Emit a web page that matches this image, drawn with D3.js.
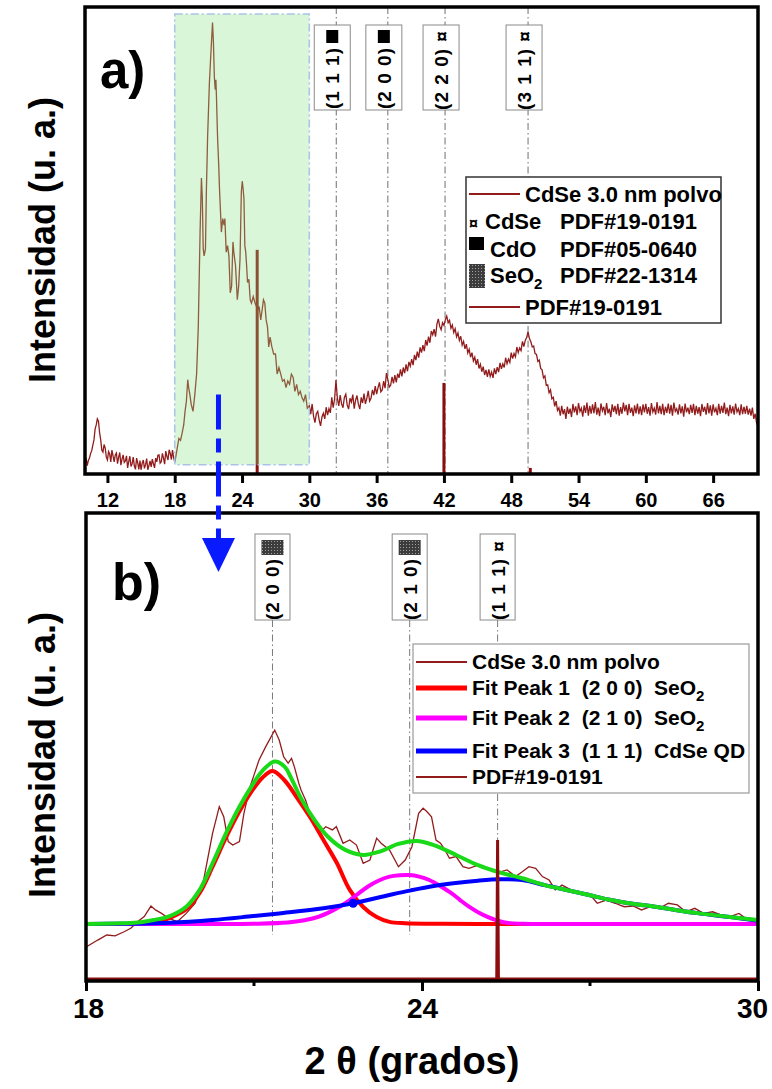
<!DOCTYPE html>
<html><head><meta charset="utf-8">
<script src="https://cdn.jsdelivr.net/npm/d3@7"></script>
<style>
body{margin:0;background:#fff}
svg text{font-family:"Liberation Sans",Arial,sans-serif;font-weight:bold;white-space:pre}
</style></head><body><svg id="c" width="772" height="1089"></svg>
<script>
// ---------- DATA ----------
// XRD pattern "CdSe 3.0 nm polvo": [2theta, intensity a.u.]
const cdseLow = [[10.0,2.6],[10.1,3.4],[10.2,1.8],[10.3,2.9],[10.4,3.4],[10.5,4.4],[10.6,5.0],[10.7,6.2],[10.8,7.3],[10.9,9.6],[11.0,10.5],[11.1,11.8],[11.2,11.3],[11.3,8.9],[11.4,7.3],[11.5,5.1],[11.6,4.7],[11.7,6.3],[11.8,5.6],[11.9,3.6],[12.0,3.0],[12.1,4.8],[12.2,4.3],[12.3,2.6],[12.4,5.1],[12.5,3.9],[12.6,2.6],[12.7,4.1],[12.8,4.5],[12.9,2.2],[13.0,3.6],[13.1,4.6],[13.2,1.9],[13.3,3.2],[13.4,4.1],[13.5,2.5],[13.6,2.8],[13.7,3.9],[13.8,1.3],[13.9,2.7],[14.0,3.8],[14.1,1.6],[14.2,2.2],[14.3,3.6],[14.4,1.7],[14.5,1.0],[14.6,3.4],[14.7,2.4],[14.8,1.0],[14.9,2.9],[15.0,0.9],[15.1,2.3],[15.2,3.0],[15.3,1.2],[15.4,2.0],[15.5,3.3],[15.6,0.9],[15.7,1.8],[15.8,2.8],[15.9,1.5],[16.0,3.2],[16.1,2.2],[16.2,1.3],[16.3,3.4],[16.4,2.6],[16.5,4.0],[16.6,4.1],[16.7,2.3],[16.8,2.6],[16.9,4.4],[17.0,3.4],[17.1,2.1],[17.2,4.9],[17.3,3.8],[17.4,3.0],[17.5,5.2],[17.6,4.4],[17.7,3.1],[17.8,5.1],[17.9,3.5]];
const cdseMid = [[18.01,2.5],[18.21,5.4],[18.37,7.6],[18.52,7.2],[18.68,9.0],[18.8,10.5],[18.92,13.4],[19.04,15.6],[19.16,20.2],[19.24,18.5],[19.35,17.0],[19.47,14.9],[19.63,13.4],[19.79,17.0],[19.95,21.4],[20.1,31.5],[20.26,51.8],[20.38,63.4],[20.46,59.0],[20.54,48.2],[20.62,46.7],[20.74,48.2],[20.82,60.5],[20.93,72.1],[21.01,77.9],[21.09,83.7],[21.21,89.5],[21.37,96.7],[21.45,92.4],[21.53,85.1],[21.61,82.3],[21.67,84.4],[21.72,80.8],[21.8,73.6],[21.84,70.7],[21.92,66.3],[22.0,60.5],[22.16,51.8],[22.28,54.7],[22.4,53.3],[22.47,54.7],[22.59,47.5],[22.71,48.9],[22.83,46.7],[22.95,38.8],[23.07,40.2],[23.19,49.7],[23.27,47.5],[23.42,44.6],[23.58,37.3],[23.7,40.2],[23.82,46.0],[23.94,60.5],[24.02,62.7],[24.09,61.2],[24.17,59.0],[24.25,48.9],[24.33,47.5],[24.41,44.6],[24.49,41.0],[24.61,41.7],[24.73,37.3],[24.84,36.6],[25.0,38.0],[25.16,36.6],[25.28,35.9],[25.4,35.1],[25.52,35.9],[25.67,33.0],[25.79,35.1],[25.91,37.3],[26.03,36.6],[26.15,33.0],[26.27,31.5],[26.38,27.2],[26.5,29.3],[26.66,27.2],[26.82,25.7],[26.98,25.7],[27.13,21.4],[27.29,22.8],[27.45,21.4],[27.61,19.9],[27.77,20.2],[27.92,18.5],[28.08,19.9],[28.24,19.2],[28.4,21.4],[28.56,20.7],[28.71,17.7],[28.87,19.2],[29.03,17.0],[29.19,17.7],[29.35,16.3],[29.5,15.6],[29.66,17.0],[29.82,14.1]];
const cdseHigh = [[30.0,14.6],[30.125,12.8],[30.25,15.0],[30.375,12.4],[30.5,11.0],[30.625,12.9],[30.75,13.4],[30.875,11.6],[31.0,10.3],[31.125,12.2],[31.25,13.0],[31.375,11.8],[31.5,14.3],[31.625,12.6],[31.75,14.0],[31.875,13.1],[32.0,16.4],[32.125,14.2],[32.25,16.0],[32.375,20.1],[32.5,16.2],[32.625,14.6],[32.75,16.9],[32.875,15.0],[33.0,14.2],[33.125,16.4],[33.25,17.1],[33.375,14.8],[33.5,13.9],[33.625,16.2],[33.75,15.4],[33.875,17.0],[34.0,14.0],[34.125,15.8],[34.25,16.8],[34.375,14.9],[34.5,13.9],[34.625,16.4],[34.75,15.2],[34.875,17.2],[35.0,15.0],[35.125,16.2],[35.25,17.8],[35.375,15.6],[35.5,16.2],[35.625,18.0],[35.75,16.9],[35.875,18.8],[36.0,17.1],[36.125,18.5],[36.25,19.6],[36.375,17.6],[36.5,18.0],[36.625,19.9],[36.75,18.4],[36.875,21.6],[37.0,20.2],[37.125,18.6],[37.25,19.0],[37.375,20.8],[37.5,19.4],[37.625,21.2],[37.75,19.6],[37.875,21.5],[38.0,20.6],[38.125,22.4],[38.25,20.9],[38.375,22.8],[38.5,21.6],[38.625,23.5],[38.75,22.0],[38.875,24.0],[39.0,23.1],[39.125,24.6],[39.25,23.3],[39.375,25.5],[39.5,24.4],[39.625,26.2],[39.75,24.9],[39.875,27.1],[40.0,26.0],[40.125,27.6],[40.25,26.3],[40.375,28.7],[40.5,27.5],[40.625,29.4],[40.75,28.1],[40.875,30.6],[41.0,29.8],[41.125,31.0],[41.25,29.4],[41.375,32.1],[41.5,33.2],[41.625,31.6],[41.75,30.9],[41.875,32.4],[42.0,31.8],[42.125,33.0],[42.25,33.8],[42.375,32.4],[42.5,32.9],[42.625,31.2],[42.75,31.9],[42.875,30.3],[43.0,31.1],[43.125,29.4],[43.25,30.2],[43.375,28.6],[43.5,29.5],[43.625,27.6],[43.75,28.4],[43.875,26.8],[44.0,27.8],[44.125,25.9],[44.25,26.7],[44.375,25.0],[44.5,26.0],[44.625,24.2],[44.75,25.0],[44.875,23.4],[45.0,24.6],[45.125,22.6],[45.25,23.5],[45.375,21.9],[45.5,23.0],[45.625,21.2],[45.75,22.3],[45.875,20.8],[46.0,22.4],[46.125,20.9],[46.25,21.8],[46.375,20.6],[46.5,22.6],[46.625,21.4],[46.75,22.9],[46.875,21.8],[47.0,23.8],[47.125,22.5],[47.25,23.6],[47.375,22.8],[47.5,24.9],[47.625,23.6],[47.75,24.6],[47.875,23.9],[48.0,26.0],[48.125,24.7],[48.25,25.8],[48.375,25.1],[48.5,27.2],[48.625,26.0],[48.75,27.0],[48.875,26.4],[49.0,28.4],[49.125,27.3],[49.25,28.6],[49.375,29.2],[49.5,30.4],[49.625,29.0],[49.75,28.3],[49.875,27.2],[50.0,27.4],[50.125,25.8],[50.25,25.6],[50.375,24.1],[50.5,24.4],[50.625,22.6],[50.75,22.3],[50.875,20.6],[51.0,21.0],[51.125,19.0],[51.25,19.1],[51.375,17.4],[51.5,18.0],[51.625,16.1],[51.75,16.4],[51.875,14.5],[52.0,15.6],[52.125,13.6],[52.25,14.2],[52.375,12.5],[52.5,14.6],[52.625,12.8],[52.75,13.9],[52.875,11.8],[53.0,14.4],[53.125,12.9],[53.25,14.0],[53.375,12.2],[53.5,15.0],[53.625,13.2],[53.75,14.5],[53.875,12.6],[54.0,15.2],[54.125,13.4],[54.25,14.1],[54.375,12.3],[54.5,14.7],[54.625,13.1],[54.75,15.3],[54.875,12.5],[55.0,14.6],[55.125,12.9],[55.25,14.9],[55.375,13.0],[55.5,15.4],[55.625,12.7],[55.75,14.2],[55.875,12.4],[56.0,15.1],[56.125,13.5],[56.25,14.4],[56.375,12.6],[56.5,15.2],[56.625,13.0],[56.75,14.0],[56.875,12.2],[57.0,14.9],[57.125,13.3],[57.25,14.6],[57.375,12.8],[57.5,15.0],[57.625,12.5],[57.75,14.3],[57.875,12.9],[58.0,15.3],[58.125,13.4],[58.25,14.8],[58.375,12.6],[58.5,15.0],[58.625,13.1],[58.75,14.2],[58.875,12.4],[59.0,14.7],[59.125,13.0],[59.25,15.1],[59.375,12.8],[59.5,14.5],[59.625,12.6],[59.75,14.9],[59.875,13.2],[60.0,15.0],[60.125,12.9],[60.25,14.3],[60.375,12.5],[60.5,15.2],[60.625,13.3],[60.75,14.1],[60.875,12.7],[61.0,15.4],[61.125,13.0],[61.25,14.6],[61.375,12.8],[61.5,15.0],[61.625,12.6],[61.75,14.4],[61.875,13.1],[62.0,15.1],[62.125,12.9],[62.25,14.8],[62.375,12.5],[62.5,15.3],[62.625,13.4],[62.75,14.0],[62.875,12.7],[63.0,14.9],[63.125,13.0],[63.25,14.5],[63.375,12.3],[63.5,15.1],[63.625,13.2],[63.75,14.2],[63.875,12.8],[64.0,14.8],[64.125,13.1],[64.25,15.0],[64.375,12.6],[64.5,14.6],[64.625,12.9],[64.75,14.3],[64.875,12.4],[65.0,15.0],[65.125,13.3],[65.25,14.4],[65.375,12.7],[65.5,15.2],[65.625,13.0],[65.75,14.7],[65.875,12.5],[66.0,14.9],[66.125,13.2],[66.25,14.1],[66.375,12.6],[66.5,15.0],[66.625,12.9],[66.75,14.6],[66.875,13.1],[67.0,15.3],[67.125,12.8],[67.25,14.2],[67.375,12.4],[67.5,14.8],[67.625,13.0],[67.75,14.5],[67.875,12.7],[68.0,15.1],[68.125,13.3],[68.25,14.0],[68.375,12.6],[68.5,14.9],[68.625,12.8],[68.75,14.4],[68.875,12.9],[69.0,14.6],[69.125,12.7],[69.25,14.0],[69.375,12.5],[69.5,14.2],[69.625,11.8],[69.75,12.9],[69.875,10.9],[70.0,10.1]];

// Reference pattern PDF#19-0191 (CdSe) sticks
const pdfTheta = [25.35, 42.0, 49.7];
const pdfIntTop = [48.0, 19.5, 1.3];
const pdfBottomBase = -11.5;
const pdfBottomTop = 48.9;

// Gaussian fit components (panel b), [2theta, intensity]
const fitPeak1 = [[18,12.4],[18.5,12.4],[19,12.5],[19.3,13.0],[19.47,14.8],[19.79,18.8],[20.03,25.9],[20.26,37.3],[20.5,50.0],[20.74,61.4],[20.97,70.5],[21.15,76.0],[21.33,78.9],[21.54,75.0],[21.76,67.6],[22.0,58.9],[22.24,48.9],[22.48,38.9],[22.71,27.2],[22.95,19.8],[23.19,15.4],[23.42,13.3],[23.7,12.7],[24.2,12.5],[25,12.4],[30,12.4]];
const fitPeak2 = [[18,12.4],[21,12.5],[21.6,13.0],[21.9,14.0],[22.16,15.6],[22.4,18.2],[22.63,21.4],[22.83,25.0],[23.03,28.6],[23.22,31.2],[23.42,33.0],[23.6,33.6],[23.78,33.7],[23.95,33.0],[24.13,31.5],[24.33,28.8],[24.53,25.7],[24.68,22.8],[24.84,19.9],[25.0,17.5],[25.16,15.6],[25.32,14.1],[25.48,13.0],[25.8,12.5],[26.5,12.4],[30,12.4]];
const fitPeak3 = [[18,12.4],[18.68,12.5],[19.5,12.9],[20.26,14.1],[20.9,15.6],[21.45,17.0],[22.24,19.2],[22.77,21.4],[23.42,25.0],[23.8,27.0],[24.21,28.9],[24.6,30.2],[25.0,31.2],[25.4,31.8],[25.79,31.5],[26.19,29.3],[26.58,27.2],[26.98,25.0],[27.37,22.8],[27.76,21.2],[28.16,19.9],[28.55,18.4],[28.95,17.0],[29.5,15.4],[30,13.8]];
const fitSum = [[18,12.4],[18.5,12.6],[18.92,13.0],[19.2,14.1],[19.47,15.6],[19.79,19.9],[20.03,27.2],[20.26,38.8],[20.5,51.8],[20.74,63.4],[20.97,72.8],[21.15,79.0],[21.37,83.0],[21.55,80.7],[21.67,75.5],[21.84,67.0],[22.08,57.6],[22.32,50.3],[22.63,44.6],[22.95,42.4],[23.26,44.0],[23.58,47.2],[23.9,48.5],[24.21,46.7],[24.61,42.4],[25.0,38.0],[25.4,34.7],[25.79,32.3],[26.19,29.3],[26.58,27.2],[26.98,25.0],[27.37,22.8],[27.76,21.2],[28.16,19.9],[28.55,18.4],[28.95,17.0],[29.5,15.4],[30,14.1]];
const crossPoint = [22.77, 21.4];

// Annotations
const refTop = [32.4, 37.0, 42.1, 49.5];
const refTopLabels = ["(1 1 1)", "(2 0 0)", "(2 2 0)", "(3 1 1)"];
const refTopPhase = ["CdO", "CdO", "CdSe", "CdSe"];
const refBot = [21.33, 23.78, 25.35];
const refBotLabels = ["(2 0 0)", "(2 1 0)", "(1 1 1)"];
const refBotPhase = ["SeO2", "SeO2", "CdSe"];
const refBotEnd = 7.6;
const zoomRange = [18, 30];
const zoomInt = [2.0, 98.5];
const arrowTheta = 21.9, arrowFrom = 17, arrowTo = 165.4;

const ticksTop = [12, 18, 24, 30, 36, 42, 48, 54, 60, 66];
const ticksBot = [18, 24, 30];
const minorBot = [21, 27];

// ---------- LAYOUT ----------
const svg = d3.select("#c");
const F = {l: 85, r: 758, t: 7, b: 474};
const G = {l: 86, r: 758, t: 513, b: 981};
const xTop = d3.scaleLinear().domain([10, 70]).range([F.l, F.r]);
const yTop = d3.scaleLinear().domain([0, 100]).range([F.b, F.t]);
const xBot = d3.scaleLinear().domain([18, 30]).range([G.l, G.r]);
const yBot = d3.scaleLinear().domain([-12.4, 191.1]).range([G.b, G.t]);

const RED = "#921c1c";
const defs = svg.append("defs");
defs.append("clipPath").attr("id", "clipTop").append("rect").attr("x", F.l).attr("y", F.t).attr("width", F.r - F.l).attr("height", F.b - F.t);
defs.append("clipPath").attr("id", "clipBot").append("rect").attr("x", G.l).attr("y", G.t).attr("width", G.r - G.l).attr("height", G.b - G.t);
const pat = defs.append("pattern").attr("id", "seo2").attr("width", 3).attr("height", 3).attr("patternUnits", "userSpaceOnUse");
pat.append("rect").attr("width", 3).attr("height", 3).attr("fill", "#3c3c3c");
pat.append("rect").attr("x", 1).attr("y", 1).attr("width", 1).attr("height", 1).attr("fill", "#a0a0a0");

const dashDot = "7,3,1.5,3";

// ================= TOP PANEL =================
const gTop = svg.append("g");
gTop.selectAll("line.ref").data(refTop).join("line")
  .attr("x1", d => xTop(d)).attr("x2", d => xTop(d))
  .attr("y1", F.t).attr("y2", F.b)
  .attr("stroke", "#6f6f6f").attr("stroke-width", 1).attr("stroke-dasharray", dashDot);

const lineTop = d3.line().x(d => xTop(d[0])).y(d => yTop(d[1]));
const cdseAll = cdseLow.concat(cdseMid, cdseHigh);
gTop.append("path").datum(cdseAll).attr("d", lineTop)
  .attr("fill", "none").attr("stroke", RED).attr("stroke-width", 1.3)
  .attr("clip-path", "url(#clipTop)");

gTop.selectAll("line.pdf").data(pdfTheta).join("line")
  .attr("x1", d => xTop(d)).attr("x2", d => xTop(d))
  .attr("y1", yTop(0)).attr("y2", (d, i) => yTop(pdfIntTop[i]))
  .attr("stroke", "#8b0d0d").attr("stroke-width", 3);

// zoom region
gTop.append("rect")
  .attr("x", xTop(zoomRange[0])).attr("y", yTop(zoomInt[1]))
  .attr("width", xTop(zoomRange[1]) - xTop(zoomRange[0]))
  .attr("height", yTop(zoomInt[0]) - yTop(zoomInt[1]))
  .attr("fill", "rgba(140,228,135,0.32)")
  .attr("stroke", "#a9c3e6").attr("stroke-width", 1.5).attr("stroke-dasharray", "8,3,2,3");

// annotation boxes top
refTop.forEach((t, i) => {
  const cx = xTop(t) - 4;
  const g = gTop.append("g");
  g.append("rect").attr("x", cx - 18).attr("y", 25).attr("width", 36).attr("height", 85)
    .attr("fill", "#fff").attr("stroke", "#8a8a8a").attr("stroke-width", 1);
  if (refTopPhase[i] === "CdO") {
    g.append("rect").attr("x", cx - 6).attr("y", 30).attr("width", 12).attr("height", 13).attr("fill", "#000");
    g.append("text").attr("transform", `translate(${cx + 7},${78}) rotate(-90)`)
      .attr("text-anchor", "middle").attr("font-size", 19).attr("letter-spacing", 1).text(refTopLabels[i]);
  } else {
    g.append("text").attr("transform", `translate(${cx + 7},${70}) rotate(-90)`)
      .attr("text-anchor", "middle").attr("font-size", 19).attr("letter-spacing", 1).text(refTopLabels[i] + " \u00A4");
  }
});

// legend top
const lt = gTop.append("g");
lt.append("rect").attr("x", 466).attr("y", 177).attr("width", 255).attr("height", 146)
  .attr("fill", "#fff").attr("stroke", "#333").attr("stroke-width", 1.5);
lt.append("line").attr("x1", 469).attr("x2", 520).attr("y1", 194).attr("y2", 194).attr("stroke", RED).attr("stroke-width", 2);
lt.append("text").attr("x", 525).attr("y", 202).attr("font-size", 22).text("CdSe 3.0 nm polvo");
lt.append("text").attr("x", 469).attr("y", 229).attr("font-size", 16).text("\u00A4");
lt.append("text").attr("x", 485).attr("y", 229).attr("font-size", 22).text("CdSe");
lt.append("text").attr("x", 560).attr("y", 229).attr("font-size", 22).text("PDF#19-0191");
lt.append("rect").attr("x", 469).attr("y", 237).attr("width", 15).attr("height", 13).attr("fill", "#000");
lt.append("text").attr("x", 490).attr("y", 257).attr("font-size", 22).text("CdO");
lt.append("text").attr("x", 560).attr("y", 257).attr("font-size", 22).text("PDF#05-0640");
lt.append("rect").attr("x", 469).attr("y", 264).attr("width", 16).attr("height", 24).attr("fill", "url(#seo2)");
const seT = lt.append("text").attr("x", 490).attr("y", 283).attr("font-size", 22).text("SeO");
seT.append("tspan").attr("font-size", 15).attr("dy", 6).text("2");
lt.append("text").attr("x", 560).attr("y", 283).attr("font-size", 22).text("PDF#22-1314");
lt.append("line").attr("x1", 469).attr("x2", 520).attr("y1", 307).attr("y2", 307).attr("stroke", RED).attr("stroke-width", 2);
lt.append("text").attr("x", 525).attr("y", 315).attr("font-size", 22).text("PDF#19-0191");

// frame + axis
gTop.append("rect").attr("x", F.l).attr("y", F.t).attr("width", F.r - F.l).attr("height", F.b - F.t)
  .attr("fill", "none").attr("stroke", "#000").attr("stroke-width", 3.5);
const axT = gTop.append("g").attr("transform", `translate(0,${F.b})`)
  .call(d3.axisBottom(xTop).tickValues(ticksTop).tickSize(9).tickSizeOuter(0).tickPadding(10));
axT.select(".domain").remove();
axT.selectAll("line").attr("stroke", "#000").attr("stroke-width", 3);
axT.selectAll("text").attr("font-size", 20).attr("fill", "#000")
  .style("font-family", '"Liberation Sans",Arial,sans-serif').style("font-weight", "bold");

gTop.append("text").attr("transform", `translate(55,${240}) rotate(-90)`)
  .attr("text-anchor", "middle").attr("font-size", 36).text("Intensidad (u. a.)");
gTop.append("text").attr("x", 100).attr("y", 88).attr("font-size", 51).text("a)");

// ================= BOTTOM PANEL =================
const gBot = svg.append("g");
refBot.forEach((t, i) => {
  const cx = xBot(t);
  gBot.append("line").attr("x1", cx).attr("x2", cx).attr("y1", 620).attr("y2", yBot(refBotEnd))
    .attr("stroke", "#7a7a7a").attr("stroke-width", 1).attr("stroke-dasharray", dashDot);
  const g = gBot.append("g");
  g.append("rect").attr("x", cx - 17.5).attr("y", 534).attr("width", 35).attr("height", 86)
    .attr("fill", "#fff").attr("stroke", "#8a8a8a").attr("stroke-width", 1);
  if (refBotPhase[i] === "SeO2") {
    g.append("rect").attr("x", cx - 11).attr("y", 540).attr("width", 22).attr("height", 15).attr("fill", "url(#seo2)");
    g.append("text").attr("transform", `translate(${cx + 7},${589}) rotate(-90)`)
      .attr("text-anchor", "middle").attr("font-size", 19).attr("letter-spacing", 1).text(refBotLabels[i]);
  } else {
    g.append("text").attr("transform", `translate(${cx + 7},${580}) rotate(-90)`)
      .attr("text-anchor", "middle").attr("font-size", 19).attr("letter-spacing", 1).text(refBotLabels[i] + " \u00A4");
  }
});

const lineBot = d3.line().x(d => xBot(d[0])).y(d => yBot(d[1]));
const smoothBot = d3.line().x(d => xBot(d[0])).y(d => yBot(d[1])).curve(d3.curveCatmullRom);
const botData = cdseAll.filter(d => d[0] >= 18 && d[0] <= 30);
gBot.append("path").datum([[18, 2.2]].concat(botData)).attr("d", lineBot)
  .attr("fill", "none").attr("stroke", RED).attr("stroke-width", 1.3).attr("clip-path", "url(#clipBot)");

const fits = [[fitPeak1, "#ff0000"], [fitPeak2, "#ff00ff"], [fitPeak3, "#0000ff"], [fitSum, "#19d919"]];
fits.forEach(([d, c]) => {
  gBot.append("path").datum(d).attr("d", smoothBot).attr("fill", "none")
    .attr("stroke", c).attr("stroke-width", 4).attr("clip-path", "url(#clipBot)");
});
gBot.append("circle").attr("cx", xBot(crossPoint[0])).attr("cy", yBot(crossPoint[1])).attr("r", 4.5).attr("fill", "#0000ff");

// PDF reference line (bottom)
const pdfBot = [[18, pdfBottomBase], [pdfTheta[0] - 0.015, pdfBottomBase], [pdfTheta[0], pdfBottomTop], [pdfTheta[0] + 0.015, pdfBottomBase], [30, pdfBottomBase]];
gBot.append("path").datum(pdfBot).attr("d", lineBot).attr("fill", "none")
  .attr("stroke", "#8b0d0d").attr("stroke-width", 3).attr("clip-path", "url(#clipBot)");

// legend bottom
const lb = gBot.append("g");
lb.append("rect").attr("x", 413).attr("y", 644).attr("width", 336).attr("height", 149)
  .attr("fill", "#fff").attr("stroke", "#9a9a9a").attr("stroke-width", 1.2);
const legRows = [
  {y: 662, c: RED, w: 2, t: "CdSe 3.0 nm polvo"},
  {y: 688, c: "#ff0000", w: 5, t: "Fit Peak 1  (2 0 0)  SeO", sub: true},
  {y: 718, c: "#ff00ff", w: 5, t: "Fit Peak 2  (2 1 0)  SeO", sub: true},
  {y: 751, c: "#0000ff", w: 5, t: "Fit Peak 3  (1 1 1)  CdSe QD"},
  {y: 777, c: RED, w: 2, t: "PDF#19-0191"}
];
legRows.forEach(r => {
  lb.append("line").attr("x1", 416).attr("x2", 467).attr("y1", r.y).attr("y2", r.y).attr("stroke", r.c).attr("stroke-width", r.w);
  const tx = lb.append("text").attr("x", 472).attr("y", r.y + 7).attr("font-size", 21).text(r.t);
  if (r.sub) tx.append("tspan").attr("font-size", 15).attr("dy", 6).text("2");
});

gBot.append("rect").attr("x", G.l).attr("y", G.t).attr("width", G.r - G.l).attr("height", G.b - G.t)
  .attr("fill", "none").attr("stroke", "#000").attr("stroke-width", 3.5);
const axB = gBot.append("g").attr("transform", `translate(0,${G.b})`)
  .call(d3.axisBottom(xBot).tickValues(ticksBot).tickSize(10).tickSizeOuter(0).tickPadding(7));
axB.select(".domain").remove();
axB.selectAll("line").attr("stroke", "#000").attr("stroke-width", 3);
axB.selectAll("text").attr("font-size", 28).attr("fill", "#000")
  .style("font-family", '"Liberation Sans",Arial,sans-serif').style("font-weight", "bold")
  .attr("dx", d => d === 30 ? -6 : (d === 18 ? 2 : 0));
gBot.append("g").selectAll("line").data(minorBot).join("line")
  .attr("x1", d => xBot(d)).attr("x2", d => xBot(d)).attr("y1", G.b).attr("y2", G.b + 5)
  .attr("stroke", "#000").attr("stroke-width", 3);

gBot.append("text").attr("transform", `translate(55,${755}) rotate(-90)`)
  .attr("text-anchor", "middle").attr("font-size", 36).text("Intensidad (u. a.)");
gBot.append("text").attr("x", 112).attr("y", 600).attr("font-size", 52).text("b)");
gBot.append("text").attr("x", 412).attr("y", 1074).attr("text-anchor", "middle").attr("font-size", 38).text("2 \u03B8 (grados)");

// ================= ARROW =================
const arX = xTop(arrowTheta);
const tipY = yBot(arrowTo);
svg.append("line").attr("x1", arX).attr("x2", arX).attr("y1", yTop(arrowFrom)).attr("y2", tipY - 32)
  .attr("stroke", "#0a1aff").attr("stroke-width", 5).attr("stroke-dasharray", "35,9,14,9");
svg.append("path").attr("d", `M${arX - 16.5},${tipY - 34}L${arX + 16.5},${tipY - 34}L${arX},${tipY}Z`).attr("fill", "#0a1aff");
</script></body></html>
